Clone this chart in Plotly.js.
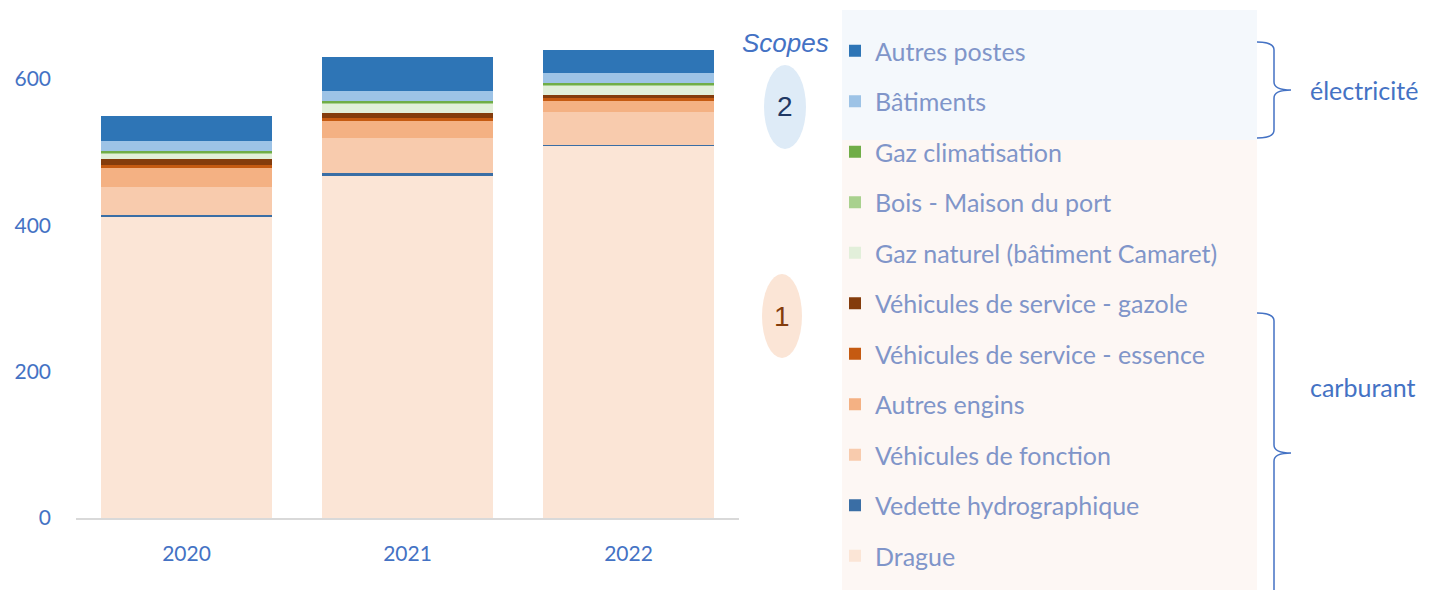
<!DOCTYPE html>
<html>
<head>
<meta charset="utf-8">
<script src="https://cdn.plot.ly/plotly-3.0.1.min.js"></script>
<style>html,body{margin:0;padding:0;background:#fff;}#chart{width:1432px;height:590px;}</style>
</head>
<body>
<div id="chart"></div>
<script>
// ---- data ----
const years = ['2020', '2021', '2022'];
const seriesNames = [
  'Drague', 'Vedette hydrographique', 'Véhicules de fonction', 'Autres engins',
  'Véhicules de service - essence', 'Véhicules de service - gazole',
  'Gaz naturel (bâtiment Camaret)', 'Bois - Maison du port', 'Gaz climatisation',
  'Bâtiments', 'Autres postes'
];
const drague        = [411, 468, 508];
const vedette       = [3, 4, 2];
const vehFonction   = [38, 47, 45.5];
const autresEngins  = [26, 23, 15];
const vehEssence    = [5, 4.6, 4];
const vehGazole     = [7, 7, 3];
const gazNaturel    = [8, 12, 13.5];
const bois          = [1, 1, 1];
const gazClim       = [3, 3.5, 3];
const batiments     = [13, 13.3, 13];
const autresPostes  = [34, 47, 31.5];
const seriesValues = [drague, vedette, vehFonction, autresEngins, vehEssence, vehGazole,
                      gazNaturel, bois, gazClim, batiments, autresPostes];
const seriesColors = ['#FBE5D6', '#3A6EA5', '#F8CBAD', '#F4B183', '#C55A11', '#843C0C',
                      '#E2EFDA', '#A9D18E', '#70AD47', '#9DC3E6', '#2E75B6'];
const yTicks = [0, 200, 400, 600];

// ---- geometry helpers (pixel -> paper) ----
const L = 76, T = 42, W = 663, H = 476;
const px = x => (x - L) / W;
const py = y => (T + H - y) / H;

const traces = seriesNames.map((n, i) => ({
  type: 'bar', name: n, x: years, y: seriesValues[i],
  legendgroup: 'g' + i, legendrank: seriesNames.length - i,
  marker: {color: seriesColors[i], line: {width: 0}},
  hoverinfo: 'name+y'
}));

const blue = '#4472C4';
const brace = (x0, yTop, yTip, yBot, xv, xTip) =>
  `M ${px(x0)} ${py(yTop)} Q ${px(xv)} ${py(yTop)} ${px(xv)} ${py(yTop + 8)} ` +
  `L ${px(xv)} ${py(yTip - 8)} Q ${px(xv)} ${py(yTip)} ${px(xTip)} ${py(yTip)} ` +
  `Q ${px(xv)} ${py(yTip)} ${px(xv)} ${py(yTip + 8)} L ${px(xv)} ${py(yBot - 8)} ` +
  `Q ${px(xv)} ${py(yBot)} ${px(x0)} ${py(yBot)}`;

const ann = (x, y, text, font, xanchor) => ({
  xref: 'paper', yref: 'paper', x: px(x), y: py(y), text, showarrow: false,
  xanchor: xanchor || 'center', yanchor: 'middle', font
});

const layout = {
  width: 1432, height: 590,
  margin: {l: L, r: 1432 - L - W, t: T, b: 590 - T - H, pad: 0},
  paper_bgcolor: '#ffffff', plot_bgcolor: 'rgba(0,0,0,0)',
  font: {family: 'Lato, "Open Sans", sans-serif', color: blue},
  barmode: 'stack', bargap: 0.23,
  showlegend: true,
  legend: {
    x: px(835), xanchor: 'left', y: py(28), yanchor: 'top',
    traceorder: 'grouped', tracegroupgap: 15, maxheight: 1,
    bgcolor: 'rgba(0,0,0,0)',
    font: {size: 25, color: '#8095C9', family: 'Lato, sans-serif'}
  },
  xaxis: {
    type: 'category', range: [-0.5, 2.5],
    showline: true, linecolor: '#D9D9D9', linewidth: 1.5,
    ticks: '', showgrid: false, zeroline: false,
    tickfont: {size: 21, color: blue}, ticklabelstandoff: 16
  },
  yaxis: {
    range: [0, 650.5], tickvals: yTicks, showgrid: false, zeroline: false,
    showline: false, ticks: '',
    tickfont: {size: 21, color: blue}, ticklabelstandoff: 24
  },
  shapes: [
    {type: 'rect', xref: 'paper', yref: 'paper', layer: 'below',
     x0: px(842), x1: px(1257), y0: py(10), y1: py(140),
     fillcolor: '#F4F8FC', line: {width: 0}},
    {type: 'rect', xref: 'paper', yref: 'paper', layer: 'below',
     x0: px(842), x1: px(1257), y0: py(140), y1: py(592),
     fillcolor: '#FDF7F4', line: {width: 0}},
    {type: 'circle', xref: 'paper', yref: 'paper', layer: 'below',
     x0: px(764), x1: px(806), y0: py(65), y1: py(149),
     fillcolor: '#DEEBF7', line: {width: 0}},
    {type: 'circle', xref: 'paper', yref: 'paper', layer: 'below',
     x0: px(762), x1: px(802), y0: py(274), y1: py(358),
     fillcolor: '#FBE5D6', line: {width: 0}},
    {type: 'path', xref: 'paper', yref: 'paper',
     path: brace(1257, 42, 90, 138, 1274, 1291),
     line: {color: blue, width: 1.5}},
    {type: 'path', xref: 'paper', yref: 'paper',
     path: brace(1257, 313, 453, 600, 1274, 1291),
     line: {color: blue, width: 1.5}}
  ],
  annotations: [
    ann(785, 43, 'Scopes', {family: '"Liberation Sans", Arial, sans-serif', size: 26, style: 'italic', color: blue}),
    ann(785, 107, '2', {family: '"Liberation Sans", Arial, sans-serif', size: 28, color: '#1F3864'}),
    ann(782, 316, '1', {family: '"Liberation Sans", Arial, sans-serif', size: 28, color: '#843C0C'}),
    ann(1308, 90, 'électricité', {size: 25, color: blue}, 'left'),
    ann(1308, 387, 'carburant', {size: 25, color: blue}, 'left')
  ]
};

Plotly.newPlot('chart', traces, layout, {displayModeBar: false, staticPlot: true});
</script>
</body>
</html>
